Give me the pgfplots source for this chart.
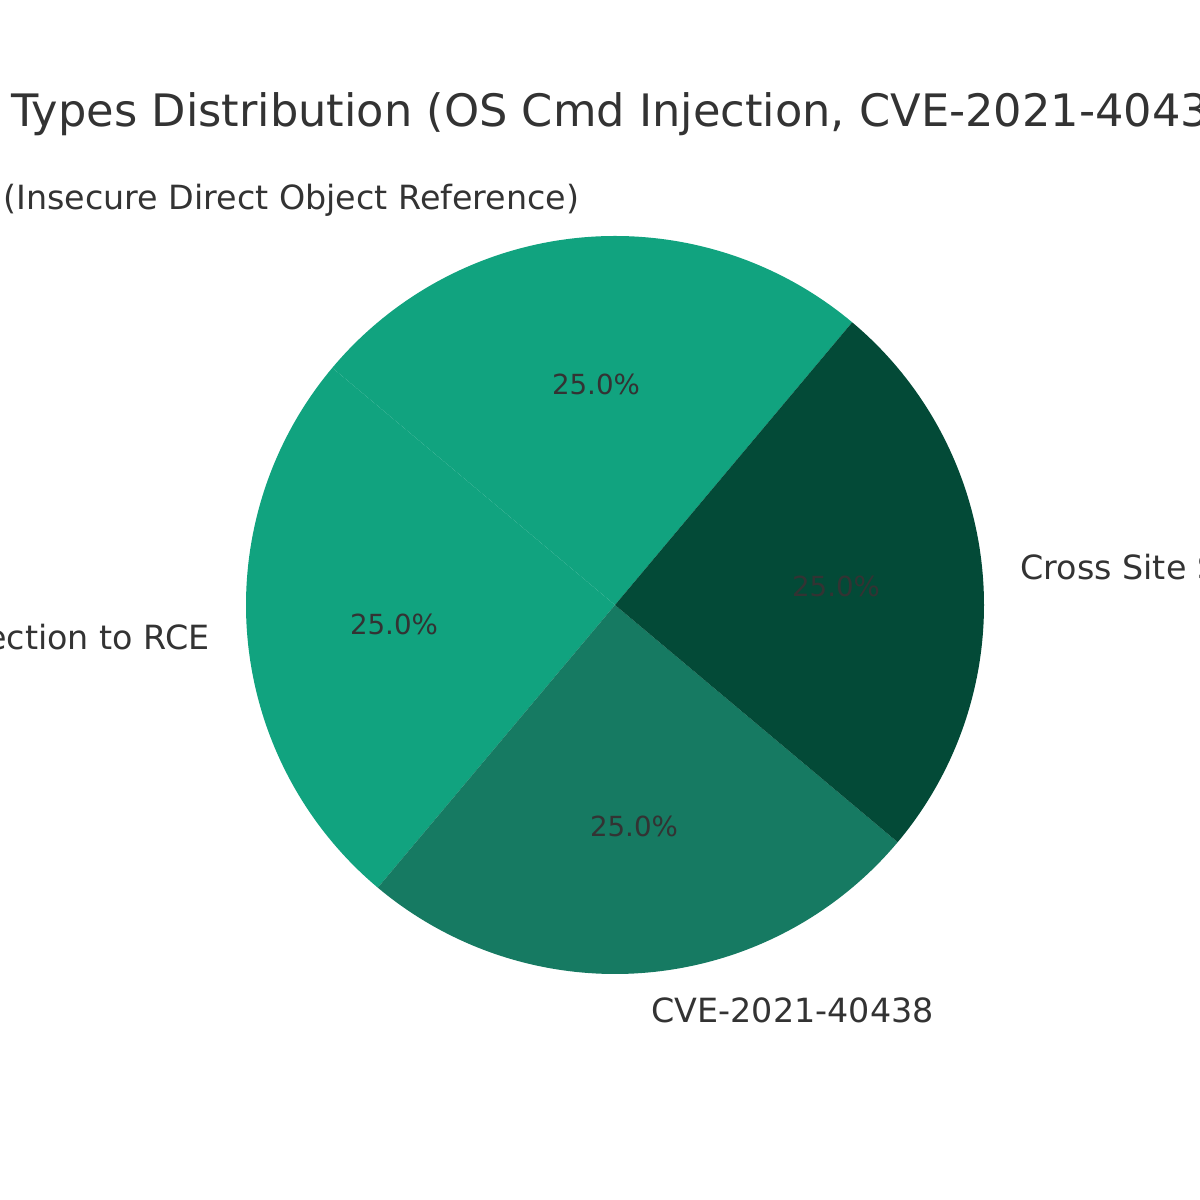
\documentclass[border=0pt]{standalone}
\usepackage{pgfplots}
\pgfplotsset{compat=1.18}
\usepackage{fontspec}
\setmainfont{DejaVu Sans}

\definecolor{gA}{HTML}{11A37F}
\definecolor{gB}{HTML}{167A62}
\definecolor{gC}{HTML}{034A37}
\definecolor{txt}{HTML}{333333}

% picture is 6in wide, axis units are pixels of the 1200x1200 image (y up)
\begin{document}
\begin{tikzpicture}
\useasboundingbox (0,0) rectangle (6in,6in);
\begin{axis}[
    at={(0,0)}, anchor=south west,
    width=6in, height=6in, scale only axis,
    xmin=0, xmax=1200, ymin=0, ymax=1200,
    axis lines=none, ticks=none,
    clip=false,
]
% four slices of 25% each, start angle 50, counter clockwise
\addplot[fill=gA, draw=none, domain=50:140, samples=91]
    ({615+369*cos(x)}, {595+369*sin(x)}) -- (axis cs:615,595) -- cycle;
\addplot[fill=gA, draw=none, domain=140:230, samples=91]
    ({615+369*cos(x)}, {595+369*sin(x)}) -- (axis cs:615,595) -- cycle;
\addplot[fill=gB, draw=none, domain=230:320, samples=91]
    ({615+369*cos(x)}, {595+369*sin(x)}) -- (axis cs:615,595) -- cycle;
\addplot[fill=gC, draw=none, domain=320:410, samples=91]
    ({615+369*cos(x)}, {595+369*sin(x)}) -- (axis cs:615,595) -- cycle;

\begin{scope}[every node/.style={text=txt, inner sep=0pt}]
\node[anchor=base west, font=\fontsize{16.15}{19}\selectfont] at (axis cs:11,1073)
    {Types Distribution (OS Cmd Injection, CVE-2021-40438, IDOR, XSS)};
\node[anchor=east, font=\fontsize{12.05}{14}\selectfont] at (axis cs:580,1000)
    {IDOR (Insecure Direct Object Reference)};
\node[anchor=east, font=\fontsize{12.05}{14}\selectfont] at (axis cs:210,560)
    {OS Cmd Injection to RCE};
\node[anchor=west, font=\fontsize{12.05}{14}\selectfont] at (axis cs:651,190)
    {CVE-2021-40438};
\node[anchor=west, font=\fontsize{12.05}{14}\selectfont] at (axis cs:1020,630)
    {Cross Site Scripting (XSS)};
\node[font=\fontsize{10}{12}\selectfont] at (axis cs:596,816) {25.0\%};
\node[font=\fontsize{10}{12}\selectfont] at (axis cs:394,576) {25.0\%};
\node[font=\fontsize{10}{12}\selectfont] at (axis cs:634,374) {25.0\%};
\node[font=\fontsize{10}{12}\selectfont] at (axis cs:836,614) {25.0\%};
\end{scope}
\end{axis}
\end{tikzpicture}
\end{document}
